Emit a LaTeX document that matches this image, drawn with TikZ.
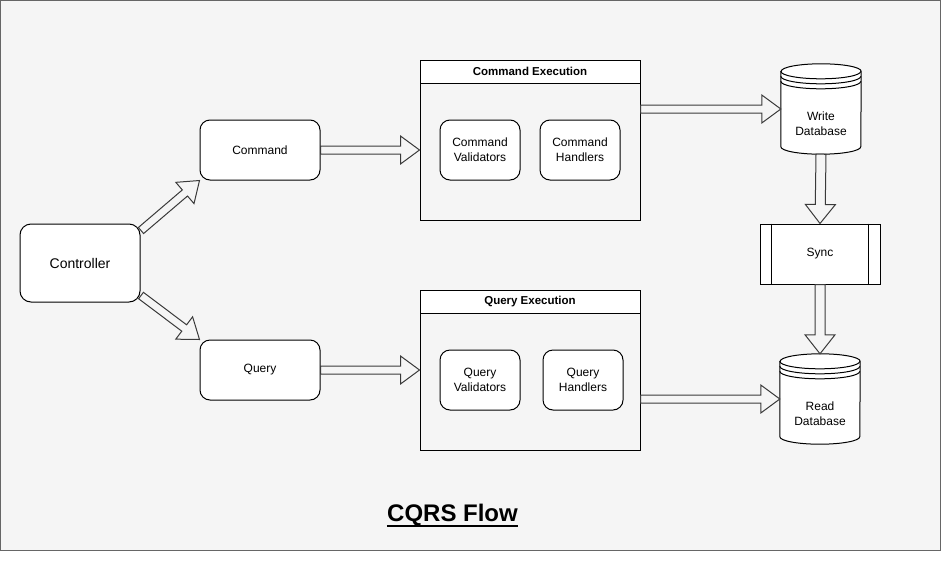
\documentclass[tikz,border=0pt]{standalone}
\usepackage{fontspec}
\setmainfont{Liberation Sans}
\usetikzlibrary{calc}
\definecolor{bgc}{HTML}{F5F5F5}
\definecolor{bdc}{HTML}{666666}
\definecolor{arc}{HTML}{3A3A3A}
\tikzset{
  box/.style={draw=black, fill=white, line width=1pt, rounded corners=10pt,
    minimum width=120pt, minimum height=60pt, inner sep=0pt, align=center,
    font=\fontsize{12}{15}\selectfont},
  sbox/.style={box, minimum width=80pt},
  cont/.style={draw=black, fill=bgc, line width=1pt, minimum width=220pt,
    minimum height=160pt, inner sep=0pt},
  hdr/.style={draw=black, fill=white, line width=1pt, minimum width=220pt,
    minimum height=23pt, inner sep=0pt, font=\fontsize{11.5}{13}\selectfont\bfseries},
  dbnode/.style={minimum width=80pt, minimum height=90pt, inner sep=0pt},
  dbline/.style={draw=black, fill=white, line width=1pt},
  dbtext/.style={inner sep=0pt, align=center, font=\fontsize{12}{15}\selectfont},
  flex/.style={draw=arc, fill=bgc, line width=1pt, line join=miter},
}
% block arrow from #2 to #3, shaft half width #1, head half width #1+10
\newcommand\flexarrow[3][4]{%
  \draw[flex] let \p1=(#2), \p2=(#3),
      \n1={atan2(\y2-\y1,\x2-\x1)}, \n2={veclen(\x2-\x1,\y2-\y1)} in
    ($(\p1)+(\n1+90:#1)$)
    -- ($(\p1)+(\n1:\n2-19)+(\n1+90:#1)$)
    -- ($(\p1)+(\n1:\n2-19)+(\n1+90:#1+10)$)
    -- (\p2)
    -- ($(\p1)+(\n1:\n2-19)+(\n1-90:#1+10)$)
    -- ($(\p1)+(\n1:\n2-19)+(\n1-90:#1)$)
    -- ($(\p1)+(\n1-90:#1)$) -- cycle;}
% cylinder outline around node #1 (80 x 90)
\newcommand\dbshape[1]{%
  \draw[dbline] ($(#1.north west)+(0,-7.5)$) -- ($(#1.south west)+(0,7.5)$)
    arc[start angle=180,end angle=360,x radius=40pt,y radius=7.5pt]
    -- ($(#1.north east)+(0,-7.5)$)
    arc[start angle=0,end angle=180,x radius=40pt,y radius=7.5pt] -- cycle;
  \draw[dbline, fill=none] ($(#1.north west)+(0,-7.5)$)
    arc[start angle=180,end angle=360,x radius=40pt,y radius=7.5pt];
  \draw[dbline, fill=none] ($(#1.north west)+(0,-12.5)$)
    arc[start angle=180,end angle=360,x radius=40pt,y radius=7.5pt];
  \draw[dbline, fill=none] ($(#1.north west)+(0,-17.5)$)
    arc[start angle=180,end angle=360,x radius=40pt,y radius=7.5pt];}
\begin{document}
\begin{tikzpicture}[x=1pt,y=1pt]
\useasboundingbox (0,0) rectangle (941,-581);
\fill[white] (0,0) rectangle (941,-581);
\draw[draw=bdc, fill=bgc, line width=1pt] (0.5,-0.5) rectangle (940,-550.5);

% left side
\node[box, minimum height=78pt, rounded corners=11pt, font=\fontsize{14}{17}\selectfont] (ctrl) at (80,-263) {Controller};
\node[box] (cmd) at (260,-150) {Command};
\node[box] (qry) at (260,-370) {Query};

% execution containers
\node[cont] (cex) at (530,-140) {};
\node[hdr, anchor=north] (cexh) at (cex.north) {Command Execution};
\node[sbox] (cv) at (480,-150) {Command\\Validators};
\node[sbox] (ch) at (580,-150) {Command\\Handlers};

\node[cont] (qex) at (530,-370) {};
\node[hdr, anchor=north] (qexh) at (qex.north) {Query Execution};
\node[sbox] (qv) at (480,-380) {Query\\Validators};
\node[sbox] (qh) at (583,-380) {Query\\Handlers};

% databases and sync
\node[dbnode] (wdb) at (821,-109) {};
\dbshape{wdb}
\node[dbtext] (wdbt) at ($(wdb.center)+(0,-15)$) {Write\\Database};

\node[dbnode] (rdb) at (820,-399) {};
\dbshape{rdb}
\node[dbtext] (rdbt) at ($(rdb.center)+(0,-15)$) {Read\\Database};

\node[box, rounded corners=0pt] (sync) at (820,-254) {Sync};
\draw[line width=1pt] ($(sync.north west)+(12,0)$) -- ($(sync.south west)+(12,0)$);
\draw[line width=1pt] ($(sync.north east)+(-12,0)$) -- ($(sync.south east)+(-12,0)$);

% connectors
\coordinate (c1) at ($(ctrl.north east)+(0.5,-7)$);
\coordinate (c2) at ($(ctrl.south east)+(0.5,7)$);
\flexarrow{c1}{cmd.south west}
\flexarrow{c2}{qry.north west}
\flexarrow{cmd.east}{cmd.east -| cex.west}
\flexarrow{qry.east}{qry.east -| qex.west}
\flexarrow{cex.east |- wdb.west}{wdb.west}
\flexarrow{qex.east |- rdb.west}{rdb.west}
\flexarrow[5]{wdb.south}{sync.north}
\flexarrow[5]{sync.south}{rdb.north}

% title
\node[inner sep=0pt, anchor=base, font=\fontsize{24}{27}\selectfont\bfseries] (title) at (452.5,-521) {CQRS Flow};
\draw[line width=1.8pt] ($(title.base west)+(0,-4.8)$) -- ($(title.base east)+(0,-4.8)$);
\end{tikzpicture}
\end{document}
